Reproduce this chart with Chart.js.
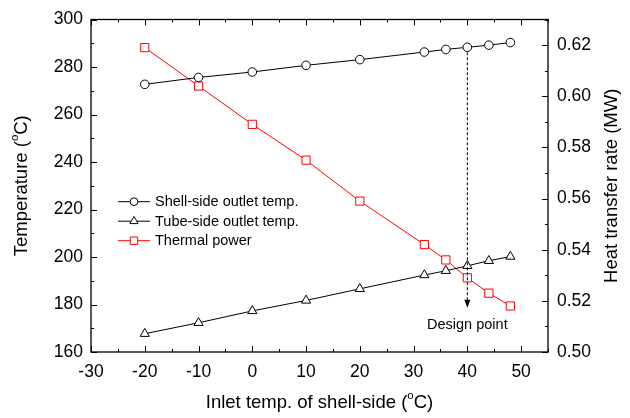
<!DOCTYPE html>
<html><head><meta charset="utf-8">
<script src="https://cdn.jsdelivr.net/npm/chart.js@4/dist/chart.umd.min.js"></script>
<style>html,body{margin:0;padding:0;background:#fff}#wrap{width:630px;height:418px}</style>
</head><body><div id="wrap"><canvas id="c" width="630" height="418"></canvas></div>
<script>
const inletTemps = [-20, -10, 0, 10, 20, 32, 36, 40, 44, 48];
const shellOutlet = [272.7, 275.6, 277.9, 280.7, 283.1, 286.3, 287.4, 288.3, 289.2, 290.3];
const tubeOutlet = [167.7, 172.3, 177.3, 181.7, 186.6, 192.4, 194.2, 196.3, 198.4, 200.2];
const thermalPower = [0.619, 0.604, 0.589, 0.575, 0.559, 0.542, 0.536, 0.529, 0.523, 0.518];
const seriesNames = ['Shell-side outlet temp.', 'Tube-side outlet temp.', 'Thermal power'];
const xTicks = [-30, -20, -10, 0, 10, 20, 30, 40, 50];
const yTicks = [160, 180, 200, 220, 240, 260, 280, 300];
const y1Ticks = [0.50, 0.52, 0.54, 0.56, 0.58, 0.60, 0.62];
const designX = 40;
const designTop = 288.3;
const designBottom = 178.6;
const designLabel = 'Design point';

const FONT = '"Liberation Sans", Arial, sans-serif';

function pts(xs, ys) { return xs.map((x, i) => ({x: x, y: ys[i]})); }

function drawRich(ctx, parts, size) {
  let total = 0;
  const widths = parts.map(p => {
    ctx.font = (p[1] ? size * 0.62 : size) + 'px ' + FONT;
    const w = ctx.measureText(p[0]).width;
    total += w; return w;
  });
  let x = -total / 2;
  parts.forEach((p, i) => {
    ctx.font = (p[1] ? size * 0.62 : size) + 'px ' + FONT;
    ctx.textBaseline = 'middle';
    ctx.textAlign = 'left';
    ctx.fillText(p[0], x, p[1] ? -size * 0.38 : 0);
    x += widths[i];
  });
}

const custom = {
  id: 'custom',
  afterDraw(chart) {
    const ctx = chart.ctx;
    const a = chart.chartArea;
    const xs = chart.scales.x, ys = chart.scales.y, y1 = chart.scales.y1;
    ctx.save();
    ctx.strokeStyle = '#000';
    ctx.fillStyle = '#000';
    ctx.lineWidth = 1.3;
    ctx.strokeRect(a.left, a.top, a.right - a.left, a.bottom - a.top);
    ctx.lineWidth = 1;
    ctx.beginPath();
    for (let v = -30; v <= 55; v += 5) {
      const px = Math.round(xs.getPixelForValue(v)) + 0.5;
      const len = (v % 10 === 0) ? 6 : 3;
      ctx.moveTo(px, a.bottom); ctx.lineTo(px, a.bottom - len);
      ctx.moveTo(px, a.top); ctx.lineTo(px, a.top + len);
    }
    for (let v = 160; v <= 300; v += 10) {
      const py = Math.round(ys.getPixelForValue(v)) + 0.5;
      const len = (v % 20 === 0) ? 6 : 3;
      ctx.moveTo(a.left, py); ctx.lineTo(a.left + len, py);
    }
    for (let k = 50; k <= 63; k += 1) {
      const v = k / 100;
      const py = Math.round(y1.getPixelForValue(v)) + 0.5;
      const len = (k % 2 === 0) ? 6 : 3;
      ctx.moveTo(a.right, py); ctx.lineTo(a.right - len, py);
    }
    ctx.stroke();

    // design point dashed line + arrow
    const dx = xs.getPixelForValue(designX);
    const dTop = ys.getPixelForValue(designTop);
    const dBot = ys.getPixelForValue(designBottom);
    ctx.setLineDash([3, 2]);
    ctx.beginPath();
    ctx.moveTo(dx, dTop + 5); ctx.lineTo(dx, dBot - 6);
    ctx.stroke();
    ctx.setLineDash([]);
    ctx.beginPath();
    ctx.moveTo(dx, dBot); ctx.lineTo(dx - 3, dBot - 8); ctx.lineTo(dx + 3, dBot - 8); ctx.closePath();
    ctx.fill();
    ctx.font = '14.5px ' + FONT;
    ctx.textAlign = 'center';
    ctx.textBaseline = 'middle';
    ctx.fillText(designLabel, dx, dBot + 17);

    // legend
    const ds = chart.data.datasets;
    const lx = 118, ly0 = 201.7, lstep = 19.5;
    ds.forEach((d, i) => {
      const y = ly0 + i * lstep;
      ctx.strokeStyle = d.borderColor;
      ctx.lineWidth = 1;
      ctx.beginPath(); ctx.moveTo(lx, y); ctx.lineTo(lx + 32, y); ctx.stroke();
      ctx.fillStyle = '#fff';
      ctx.strokeStyle = d.pointBorderColor;
      Chart.helpers.drawPoint(ctx, {pointStyle: d.pointStyle, radius: d.pointRadius * 0.9, borderWidth: 1, rotation: 0}, lx + 16, y);
      ctx.fillStyle = '#000';
      ctx.font = '14.5px ' + FONT;
      ctx.textAlign = 'left';
      ctx.textBaseline = 'middle';
      ctx.fillText(d.label, lx + 37, y + 0.5);
    });

    // axis titles
    ctx.fillStyle = '#000';
    ctx.save();
    ctx.translate((a.left + a.right) / 2, 403);
    drawRich(ctx, [['Inlet temp. of shell-side (', false], ['o', true], ['C)', false]], 18.5);
    ctx.restore();
    ctx.save();
    ctx.translate(22, (a.top + a.bottom) / 2);
    ctx.rotate(-Math.PI / 2);
    drawRich(ctx, [['Temperature (', false], ['o', true], ['C)', false]], 18.5);
    ctx.restore();
    ctx.save();
    ctx.translate(612, (a.top + a.bottom) / 2);
    ctx.rotate(-Math.PI / 2);
    drawRich(ctx, [['Heat transfer rate (MW)', false]], 18.5);
    ctx.restore();
    ctx.restore();
  }
};

const chart = new Chart(document.getElementById('c'), {
  type: 'line',
  data: {
    datasets: [
      {label: seriesNames[0], data: pts(inletTemps, shellOutlet), yAxisID: 'y',
       borderColor: '#000', backgroundColor: '#fff', borderWidth: 1,
       pointStyle: 'circle', pointRadius: 4.3, pointBorderWidth: 1, pointBackgroundColor: '#fff', pointBorderColor: '#000'},
      {label: seriesNames[1], data: pts(inletTemps, tubeOutlet), yAxisID: 'y',
       borderColor: '#000', backgroundColor: '#fff', borderWidth: 1,
       pointStyle: 'triangle', pointRadius: 5.3, pointBorderWidth: 1, pointBackgroundColor: '#fff', pointBorderColor: '#000'},
      {label: seriesNames[2], data: pts(inletTemps, thermalPower), yAxisID: 'y1',
       borderColor: '#ff0000', backgroundColor: '#fff', borderWidth: 1,
       pointStyle: 'rect', pointRadius: 5.8, pointBorderWidth: 1, pointBackgroundColor: '#fff', pointBorderColor: '#ff0000'}
    ]
  },
  options: {
    responsive: false,
    animation: false,
    events: [],
    layout: {padding: {top: 14, left: 0, right: 0, bottom: 0}},
    plugins: {legend: {display: false}, tooltip: {enabled: false}},
    elements: {line: {tension: 0}},
    scales: {
      x: {
        type: 'linear', min: -30, max: 55,
        afterBuildTicks: s => { s.ticks = xTicks.map(v => ({value: v})); },
        afterFit: s => { s.height = 66; },
        grid: {display: false, drawTicks: false},
        border: {display: false},
        ticks: {padding: 10, color: '#000', font: {family: FONT, size: 17.5}, maxRotation: 0, autoSkip: false}
      },
      y: {
        type: 'linear', position: 'left', min: 160, max: 300,
        afterBuildTicks: s => { s.ticks = yTicks.map(v => ({value: v})); },
        afterFit: s => { s.width = 91; },
        grid: {display: false, drawTicks: false},
        border: {display: false},
        ticks: {padding: 8, color: '#000', font: {family: FONT, size: 17.5}, autoSkip: false}
      },
      y1: {
        type: 'linear', position: 'right', min: 0.50, max: 0.63,
        afterBuildTicks: s => { s.ticks = y1Ticks.map(v => ({value: v})); },
        afterFit: s => { s.width = 82; },
        grid: {display: false, drawTicks: false},
        border: {display: false},
        ticks: {padding: 9, color: '#000', font: {family: FONT, size: 17.5}, autoSkip: false,
                callback: v => Number(v).toFixed(2)}
      }
    }
  },
  plugins: [custom]
});
</script>
</body></html>
